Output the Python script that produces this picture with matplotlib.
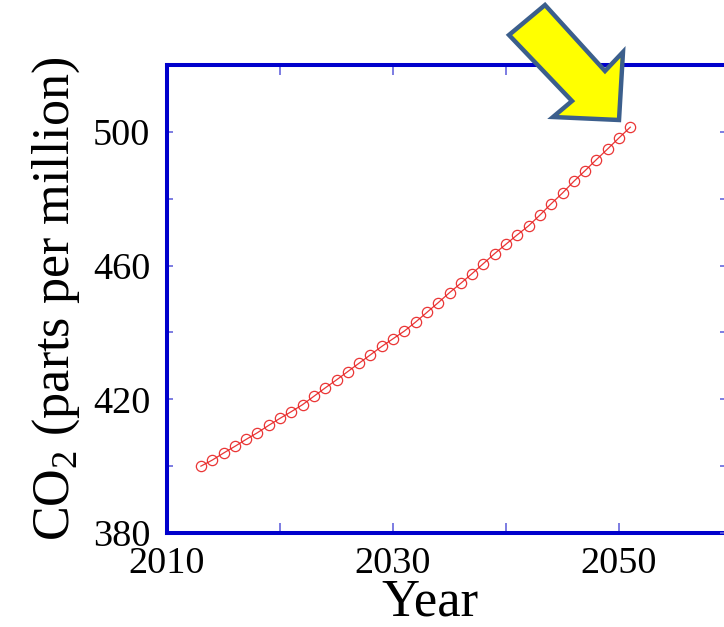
import matplotlib
matplotlib.use("Agg")
import matplotlib.pyplot as plt
from matplotlib.patches import Polygon

years = list(range(2013, 2052))
co2_ppm = [400.0, 401.8, 403.9, 405.9, 408.0, 410.0, 412.2, 414.3, 416.3, 418.4,
           420.9, 423.4, 425.8, 428.3, 430.8, 433.3, 435.8, 438.1, 440.4, 443.1,
           446.0, 448.9, 451.9, 454.7, 457.6, 460.6, 463.6, 466.4, 469.2, 471.9,
           475.1, 478.5, 481.7, 485.2, 488.4, 491.7, 494.9, 498.2, 501.4]

x_major_ticks = [2010, 2030, 2050]
x_minor_ticks = [2020, 2040]
y_major_ticks = [380, 420, 460, 500]
y_minor_ticks = [400, 440, 480]

plt.rcParams['font.family'] = ['Liberation Serif', 'DejaVu Serif']
plt.rcParams['mathtext.fontset'] = 'custom'
plt.rcParams['mathtext.rm'] = 'Liberation Serif'

W, H = 724, 627
fig = plt.figure(figsize=(W / 100, H / 100), dpi=100)
left, right, top, bottom = 167, 732, 65, 533
ax = fig.add_axes([left / W, 1 - bottom / H, (right - left) / W, (bottom - top) / H])

ax.plot(years, co2_ppm, color='#E82020', lw=0.9, marker='o', ms=7.4,
        mfc='none', mec='#E82020', mew=0.9, alpha=0.9)

ax.set_xlim(2010, 2060)
ax.set_ylim(380, 520)
ax.set_xticks(x_major_ticks)
ax.set_xticks(x_minor_ticks, minor=True)
ax.set_yticks(y_major_ticks)
ax.set_yticks(y_minor_ticks, minor=True)

spine_col = '#0000CC'
tick_col = '#6666DD'
for s in ax.spines.values():
    s.set_color(spine_col)
    s.set_linewidth(2.9)

ax.tick_params(axis='x', which='both', direction='in', top=True, bottom=True,
               length=7, width=1.2, color=tick_col, labelsize=27.5, pad=10)
ax.tick_params(axis='y', which='both', direction='in', left=True, right=False,
               length=4.5, width=1.2, color=tick_col, labelsize=27.5, pad=12)
for lbl in ax.get_yticklabels():
    if lbl.get_text() == '380':
        lbl.set_y(382)

ax2 = ax.twinx()
ax2.set_ylim(380, 520)
ax2.set_yticks(sorted(y_major_ticks + y_minor_ticks))
ax2.tick_params(axis='y', direction='in', length=9, width=1.2, color=tick_col,
                labelright=False)
for s in ax2.spines.values():
    s.set_visible(False)

ax.set_xlabel('Year', fontsize=38, labelpad=0)
ax.xaxis.set_label_coords(0.465, -0.098)
ax.set_ylabel('CO$_{2}$ (parts per million)', fontsize=37.5)
ax.yaxis.set_label_coords(-0.150, 0.5)

# yellow arrow annotation
arrow_px = [(545, 5), (509, 35), (572, 101), (553, 117), (619, 120), (623, 52), (605, 71)]
arrow_pts = [(x / W, 1 - y / H) for x, y in arrow_px]
fig.patches.append(Polygon(arrow_pts, closed=True, facecolor='#FFFF00',
                           edgecolor='#3C5F8C', linewidth=3.2, joinstyle='miter',
                           transform=fig.transFigure, zorder=10))

fig.savefig('out.png', dpi=100)
